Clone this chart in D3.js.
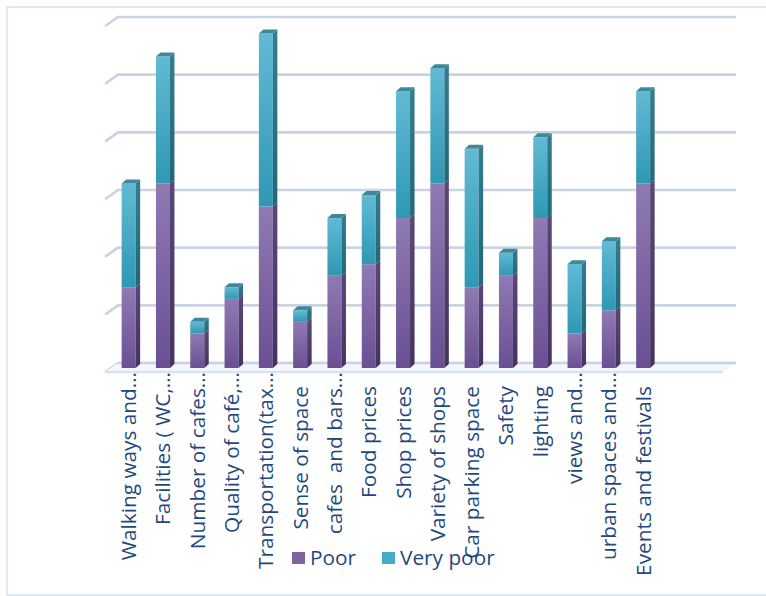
<!DOCTYPE html>
<html>
<head>
<meta charset="utf-8">
<script src="https://cdn.jsdelivr.net/npm/d3@7"></script>
<style>
  html, body { margin: 0; padding: 0; background: #ffffff; }
  svg { display: block; }
  text { white-space: pre; }
</style>
</head>
<body>
<svg id="chart" width="766" height="596"></svg>
<script>
// ---- data ----
const categories = [
  "Walking ways and\u2026", "Facilities ( WC,\u2026", "Number of cafes\u2026", "Quality of caf\u00e9,\u2026",
  "Transportation(tax\u2026", "Sense of space", "cafes  and bars\u2026", "Food prices",
  "Shop prices", "Variety of shops", "Car parking space", "Safety",
  "lighting", "views and\u2026", "urban spaces and\u2026", "Events and festivals"
];
const poor     = [7, 16, 3, 6, 14, 4, 8, 9, 13, 16, 7, 8, 13, 3, 5, 16];
const veryPoor = [9, 11, 1, 1, 15, 1, 5, 6, 11, 10, 12, 2, 7, 6, 6, 8];
const seriesNames = ["Poor", "Very poor"];
const gridTicks = [0, 5, 10, 15, 20, 25, 30];

// ---- layout ----
const svg = d3.select("#chart");
const font = "'Open Sans', 'Noto Sans', sans-serif";
const fontSize = 20.8;
const textColor = "#1f497d";
const depthX = 4.5, depthY = 4;   // bar depth offset
const wallX = 13, wallY = 9;      // floor depth (front -> back)

const x = d3.scaleBand().domain(categories)
  .range([111.5, 111.5 + 16 * 34.3]).paddingInner(0.592).paddingOuter(0.296);
const y = d3.scaleLinear().domain([0, 30]).range([368, 22]);  // bar front faces
const yBack = v => y(v) - 5;                                 // back wall

// chart border
svg.append("rect").attr("x", 7).attr("y", 7).attr("width", 780).attr("height", 588)
  .attr("fill", "none").attr("stroke", "#d3e2f3").attr("stroke-width", 1.5);

// gradients
const defs = svg.append("defs");
function grad(id, c1, c2) {
  const g = defs.append("linearGradient").attr("id", id)
    .attr("x1", 0).attr("y1", 0).attr("x2", 0).attr("y2", 1);
  g.append("stop").attr("offset", "0%").attr("stop-color", c1);
  g.append("stop").attr("offset", "100%").attr("stop-color", c2);
}
grad("gPoor", "#8f7ab2", "#6a4f93");
grad("gVP", "#62bad4", "#2f98b3");
grad("gPoorSide", "#5a4679", "#45325f");
grad("gVPSide", "#347c90", "#22677a");
const colors = {
  front: ["url(#gPoor)", "url(#gVP)"],
  side: ["url(#gPoorSide)", "url(#gVPSide)"],
  top: ["#5f4a80", "#3e8899"],
  legend: ["#7e62a1", "#46abc6"]
};

// back wall gridlines + side wall diagonals
const xWallL = 118, xWallR = 736;
const grid = svg.append("g");
gridTicks.forEach(v => {
  const yy = yBack(v);
  grid.append("line").attr("x1", xWallL).attr("x2", xWallR).attr("y1", yy).attr("y2", yy)
    .attr("stroke", "#c8d3e3").attr("stroke-width", 2.6);
  grid.append("line").attr("x1", xWallL - wallX + 1).attr("y1", yy + wallY - 0.5)
    .attr("x2", xWallL).attr("y2", yy)
    .attr("stroke", "#c8d3e3").attr("stroke-width", 2.6).attr("stroke-linecap", "round");
});
// floor
const yb0 = yBack(0);
svg.append("path")
  .attr("d", `M${xWallL},${yb0} L${xWallR},${yb0} L${xWallR - wallX},${yb0 + wallY} L${xWallL - wallX},${yb0 + wallY} Z`)
  .attr("fill", "#f3f6fb").attr("stroke", "none");
svg.append("line").attr("x1", xWallL - wallX).attr("x2", xWallR - wallX)
  .attr("y1", yb0 + wallY).attr("y2", yb0 + wallY)
  .attr("stroke", "#d9e3f0").attr("stroke-width", 2.4);
svg.append("line").attr("x1", xWallL).attr("x2", xWallR).attr("y1", yb0).attr("y2", yb0)
  .attr("stroke", "#c8d3e3").attr("stroke-width", 2.6);

// stacked data
const rows = categories.map((c, i) => ({ cat: c, Poor: poor[i], "Very poor": veryPoor[i] }));
const stacked = d3.stack().keys(seriesNames)(rows);

const bars = svg.append("g");
const w = x.bandwidth();
stacked.forEach((layer, si) => {
  layer.forEach((d, i) => {
    const cat = categories[i];
    const x0 = x(cat), y0 = y(d[1]), y1 = y(d[0]);
    if (d[1] - d[0] <= 0) return;
    // front face
    bars.append("rect").attr("x", x0).attr("y", y0).attr("width", w).attr("height", y1 - y0)
      .attr("fill", colors.front[si]);
    // side face
    bars.append("path")
      .attr("d", `M${x0 + w},${y0} L${x0 + w + depthX},${y0 - depthY} L${x0 + w + depthX},${y1 - depthY} L${x0 + w},${y1} Z`)
      .attr("fill", colors.side[si]);
    // top cap on the topmost segment
    if (si === stacked.length - 1) {
      bars.append("path")
        .attr("d", `M${x0},${y0} L${x0 + depthX},${y0 - depthY} L${x0 + w + depthX},${y0 - depthY} L${x0 + w},${y0} Z`)
        .attr("fill", colors.top[si]);
    }
  });
});

// category labels (rotated)
const labels = svg.append("g");
categories.forEach(c => {
  const cx = x(c) + w / 2;
  const truncated = c.endsWith("\u2026");
  const yEnd = truncated ? 372 : 386;
  labels.append("text")
    .attr("transform", `translate(${cx},${yEnd}) rotate(-90)`)
    .attr("text-anchor", "end")
    .attr("dy", "0.36em")
    .attr("font-family", font).attr("font-size", fontSize)
    .attr("fill", textColor)
    .text(c);
});

// legend
const legendItems = [
  { name: "Poor", sx: 292, tx: 310 },
  { name: "Very poor", sx: 382, tx: 400 }
];
const legend = svg.append("g");
legendItems.forEach((it, i) => {
  legend.append("rect").attr("x", it.sx).attr("y", 552).attr("width", 13).attr("height", 12)
    .attr("fill", colors.legend[i]);
  legend.append("text").attr("x", it.tx).attr("y", 565)
    .attr("font-family", font).attr("font-size", fontSize).attr("fill", textColor)
    .text(seriesNames[i]);
});
</script>
</body>
</html>
